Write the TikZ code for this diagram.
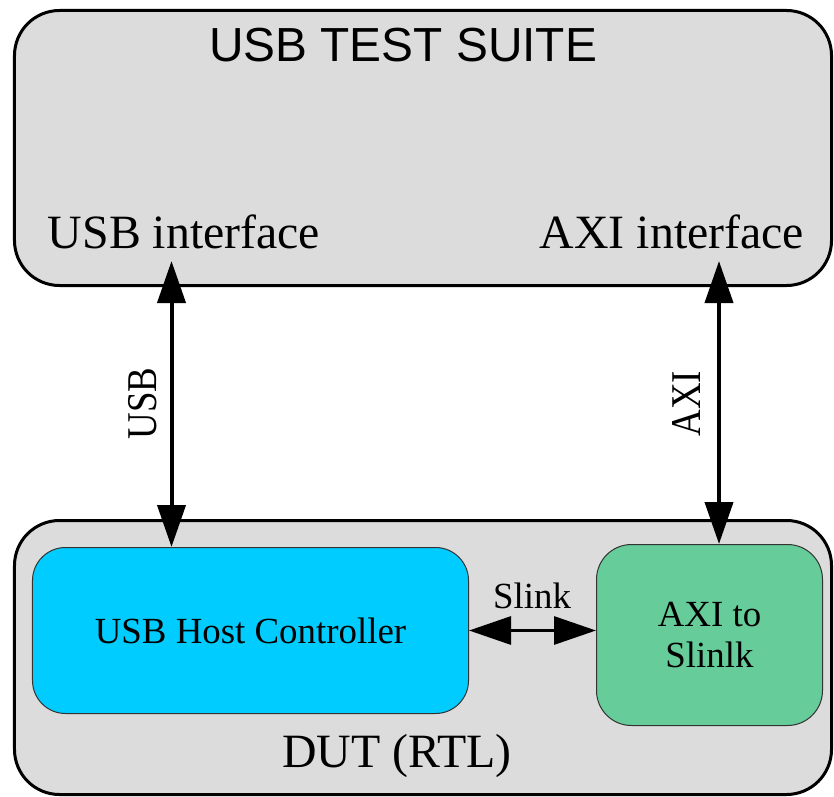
\documentclass[tikz,border=0pt]{standalone}
\usepackage{fontspec}
\setmainfont{Liberation Serif}
\newfontfamily\headfont{Liberation Sans}
\usetikzlibrary{arrows.meta}
\definecolor{panelgray}{RGB}{220,220,220}
\definecolor{hostblue}{RGB}{0,204,255}
\definecolor{bridgegreen}{RGB}{102,204,153}
\begin{document}
\begin{tikzpicture}[x=1bp,y=-1bp,
  panel/.style={draw=black, fill=panelgray, line width=3bp, rounded corners=45bp, inner sep=0pt},
  block/.style={draw=black!80, line width=1bp, inner sep=0pt, align=center,
    font=\fontsize{37}{41}\selectfont},
  big/.style={font=\fontsize{48}{56}\selectfont, inner sep=0pt, anchor=base},
  small/.style={font=\fontsize{37}{41}\selectfont, inner sep=0pt},
  link/.style={line width=4bp,
    {Triangle[length=42bp,width=28bp]}-{Triangle[length=42bp,width=28bp]}},
]
\useasboundingbox (0,0) rectangle (834,797);

% outer panels
\node[panel, minimum width=817bp, minimum height=275bp] (suite) at (423,148) {};
\node[panel, minimum width=817bp, minimum height=274bp] (dut) at (423,657.5) {};

% blocks inside the DUT
\node[block, fill=hostblue, minimum width=436bp, minimum height=166bp,
  rounded corners=33bp] (host) at (250.5,630.5) {USB Host Controller};
\node[block, fill=bridgegreen, minimum width=226bp, minimum height=181bp,
  rounded corners=35bp] (bridge) at (709.5,635) {AXI to\\Slinlk};

% labels
\node[big, font=\headfont\fontsize{48}{56}\selectfont] (title) at (403,62) {USB TEST SUITE};
\node[big] (usbif) at (184,248) {USB interface};
\node[big] (axiif) at (672,248) {AXI interface};
\node[big] (dutlabel) at (397,767) {DUT (RTL)};
\node[small, anchor=base] (slinklabel) at (532,608) {Slink};
\node[small, rotate=90] (usblabel) at (142.5,403.5) {\scalebox{1}[1.15]{USB}};
\node[small, rotate=90] (axilabel) at (686,403.5) {\scalebox{1}[1.15]{AXI}};

% connections
\coordinate (usbtop) at (171.5,261);
\coordinate (axitop) at (719,261);
\draw[link] (usbtop) -- (usbtop |- host.north);
\draw[link] (axitop) -- (axitop |- bridge.north);
\draw[link, line width=3bp] (host.east) -- (host.east -| bridge.west);
\end{tikzpicture}
\end{document}
